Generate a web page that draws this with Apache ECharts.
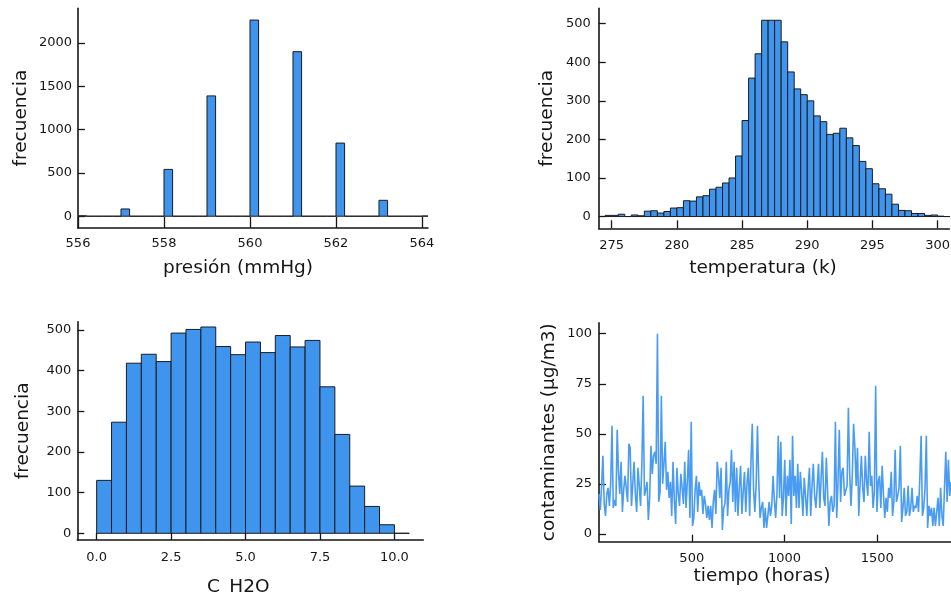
<!DOCTYPE html>
<html>
<head>
<meta charset="utf-8">
<script src="https://cdn.jsdelivr.net/npm/echarts@6/dist/echarts.min.js"></script>
<style>
  html, body { margin: 0; padding: 0; background: #ffffff; }
  #chart { width: 951px; height: 594px; }
</style>
</head>
<body>
<div id="chart"></div>
<script>
// ---- presión (mmHg): 0.2-wide bins starting at 556.0 ----
const pressureBinStart = 556.0;
const pressureBinWidth = 0.2;
const pressureCounts = [
  5, 0, 0, 0, 0,
  84, 0, 0, 0, 0,
  541, 0, 0, 0, 0,
  1390, 0, 0, 0, 0,
  2266, 0, 0, 0, 0,
  1901, 0, 0, 0, 0,
  845, 0, 0, 0, 0,
  184, 0, 0, 0, 0,
  3
];
const pressureTicks = [556, 558, 560, 562, 564];
const pressureFreqTicks = [0, 500, 1000, 1500, 2000];

// ---- temperatura (k): 0.5-wide bins starting at 274.5 ----
const tempBinStart = 274.5;
const tempBinWidth = 0.5;
const tempCounts = [
  3, 3, 6, 0, 4, 2, 14, 15, 9, 13,
  22, 23, 41, 40, 51, 54, 71, 76, 87, 100,
  157, 249, 359, 422, 509, 509, 509, 453, 375, 331,
  316, 300, 261, 246, 213, 216, 229, 204, 184, 143,
  124, 85, 72, 58, 32, 16, 15, 8, 8, 3,
  4, 1, 0
];
const tempTicks = [275, 280, 285, 290, 295, 300];
const tempFreqTicks = [0, 100, 200, 300, 400, 500];

// ---- C_H2O: 0.5-wide bins starting at 0 ----
const waterBinStart = 0;
const waterBinWidth = 0.5;
const waterCounts = [
  130, 273, 418, 440, 422, 492, 501, 507, 459, 439,
  470, 444, 486, 458, 474, 360, 243, 116, 66, 21,
  0
];
const waterTicks = [0, 2.5, 5, 7.5, 10];
const waterFreqTicks = [0, 100, 200, 300, 400, 500];

// ---- contaminantes (µg/m3): one reading every 7 hours from hour 0 ----
const hourStart = 0;
const hourStep = 7;
const pollutantValues = [
  20, 12, 24, 39, 15, 9, 20, 23, 14, 25,
  54, 13, 17, 14, 52, 31, 20, 36, 11, 22,
  29, 23, 16, 45, 43, 14, 25, 36, 20, 11,
  33, 24, 14, 35, 69, 19, 22, 26, 7, 18,
  44, 30, 39, 41, 35, 100, 16, 21, 69, 25,
  35, 46, 22, 31, 18, 26, 9, 36, 17, 5,
  33, 20, 14, 30, 23, 15, 36, 13, 26, 42,
  8,
  56, 4, 8, 22, 29, 11, 26, 19, 22, 10,
  19, 15, 8, 14, 7, 14, 3, 16, 22, 10,
  36, 29, 18, 33, 2, 13, 15, 36, 9, 22,
  26, 42, 16, 36, 11, 33, 9, 23, 34, 10,
  21, 31, 11, 26, 33, 9, 36, 55, 22, 11,
  25, 54, 26, 8, 13, 16, 3, 13, 3, 9,
  16, 9, 14, 29, 17, 8, 20, 49, 18, 46,
  9, 18, 37, 9, 29, 19, 37, 5, 49, 19,
  29, 13, 35, 13, 31, 21, 9, 28, 19, 9,
  23, 33, 9, 24, 35, 19, 13, 24, 35, 13,
  28, 41, 18, 14, 38, 21, 4, 16, 19, 11,
  14, 56, 8, 26, 52, 16, 31, 33, 19, 19,
  24, 63, 30, 14, 29, 55, 43, 24, 43, 9,
  25, 39, 23, 16, 39, 26, 19, 51, 24,
  29, 13, 21, 74, 11, 26, 29, 13, 34, 20,
  8, 18, 11, 23, 18, 31, 9, 16, 42, 16,
  19, 23, 44, 6, 13, 23, 9, 11, 24, 9,
  13, 23, 11, 14, 13, 19, 11, 28, 49, 9,
  13, 23, 49, 3, 14, 9, 13, 4, 13, 4,
  11, 18, 4, 23, 9, 4, 23, 41, 16, 37,
  19, 26
];
const hourTicks = [500, 1000, 1500];
const pollutantTicks = [0, 25, 50, 75, 100];

// ---- styling ----
const FONT = 'DejaVu Sans';
const INK = '#161616';
const BAR_FILL = '#3f95ee';
const BAR_EDGE = '#1c1c1c';
const LINE_COLOR = '#4a9cf2';

// histogram rows: [left edge, right edge, count]
function binRows(start, width, counts) {
  return counts.map((c, i) => [start + i * width, start + (i + 1) * width, c]);
}

function renderBin(params, api) {
  const p0 = api.coord([api.value(0), 0]);
  const p1 = api.coord([api.value(1), api.value(2)]);
  return {
    type: 'rect',
    shape: { x: p0[0], y: p1[1], width: p1[0] - p0[0], height: p0[1] - p1[1] },
    style: { fill: BAR_FILL, stroke: BAR_EDGE, lineWidth: 1 }
  };
}

function axisCommon(o) {
  return {
    type: 'value',
    gridIndex: o.grid,
    min: o.min,
    max: o.max,
    name: o.name,
    nameLocation: 'middle',
    nameGap: o.nameGap,
    nameMoveOverlap: false,
    nameTextStyle: {
      fontFamily: FONT, fontSize: 18.5, color: INK,
      padding: o.namePadding || 0
    },
    axisLine: { show: true, onZero: false, lineStyle: { color: INK, width: 1.6 } },
    axisTick: {
      show: true, inside: true, length: o.tickLen,
      customValues: o.ticks,
      lineStyle: { color: INK, width: 1.3 }
    },
    axisLabel: {
      show: true, customValues: o.ticks, margin: o.labelMargin,
      fontFamily: FONT, fontSize: 13, color: INK,
      formatter: o.fmt || (v => String(v)),
      hideOverlap: false
    },
    splitLine: { show: false },
    splitArea: { show: false }
  };
}

const chart = echarts.init(document.getElementById('chart'), null, { renderer: 'canvas' });

chart.setOption({
  animation: false,
  backgroundColor: '#ffffff',
  grid: [
    { left: 78, top: 8.3, width: 350, height: 219.7, outerBoundsMode: 'none', containLabel: false },
    { left: 598.7, top: 8.3, width: 350.6, height: 220, outerBoundsMode: 'none', containLabel: false },
    { left: 77.3, top: 321.7, width: 346, height: 218.3, outerBoundsMode: 'none', containLabel: false },
    { left: 599, top: 322.7, width: 352, height: 219, outerBoundsMode: 'none', containLabel: false }
  ],
  xAxis: [
    axisCommon({ grid: 0, min: 556, max: 564.14, name: 'presión (mmHg)', nameGap: 31,
      namePadding: [0, 30, 0, 0], ticks: pressureTicks, tickLen: 11, labelMargin: 9 }),
    axisCommon({ grid: 1, min: 274.0, max: 300.9, name: 'temperatura (k)', nameGap: 30,
      namePadding: [0, 22, 0, 0], ticks: tempTicks, tickLen: 8, labelMargin: 11 }),
    axisCommon({ grid: 2, min: -0.65, max: 10.97, name: 'C_H2O', nameGap: 38,
      namePadding: [0, 24, 0, 0], ticks: waterTicks, tickLen: 7, labelMargin: 11,
      fmt: v => v.toFixed(1) }),
    axisCommon({ grid: 3, min: 0, max: (pollutantValues.length - 1) * hourStep + hourStart,
      name: 'tiempo (horas)', nameGap: 25,
      namePadding: [0, 26, 0, 0], ticks: hourTicks, tickLen: 7, labelMargin: 10.5 })
  ],
  yAxis: [
    axisCommon({ grid: 0, min: -136, max: 2402, name: 'frecuencia', nameGap: 47,
      ticks: pressureFreqTicks, tickLen: 7, labelMargin: 6 }),
    axisCommon({ grid: 1, min: -30.5, max: 540, name: 'frecuencia', nameGap: 42,
      ticks: tempFreqTicks, tickLen: 7, labelMargin: 8 }),
    axisCommon({ grid: 2, min: -16.5, max: 520, name: 'frecuencia', nameGap: 45,
      ticks: waterFreqTicks, tickLen: 7, labelMargin: 6 }),
    axisCommon({ grid: 3, min: -3.9, max: 105.5, name: 'contaminantes (μg/m3)', nameGap: 40,
      ticks: pollutantTicks, tickLen: 7, labelMargin: 7 })
  ],
  series: [
    {
      type: 'custom', xAxisIndex: 0, yAxisIndex: 0, clip: true,
      renderItem: renderBin, encode: { x: [0, 1], y: 2 },
      data: binRows(pressureBinStart, pressureBinWidth, pressureCounts)
    },
    {
      type: 'custom', xAxisIndex: 1, yAxisIndex: 1, clip: true,
      renderItem: renderBin, encode: { x: [0, 1], y: 2 },
      data: binRows(tempBinStart, tempBinWidth, tempCounts)
    },
    {
      type: 'custom', xAxisIndex: 2, yAxisIndex: 2, clip: true,
      renderItem: renderBin, encode: { x: [0, 1], y: 2 },
      data: binRows(waterBinStart, waterBinWidth, waterCounts)
    },
    {
      type: 'line', xAxisIndex: 3, yAxisIndex: 3, clip: true,
      showSymbol: false, symbol: 'none',
      lineStyle: { color: LINE_COLOR, width: 1.6 },
      itemStyle: { color: LINE_COLOR },
      data: pollutantValues.map((v, i) => [hourStart + i * hourStep, v])
    }
  ]
});
</script>
</body>
</html>
